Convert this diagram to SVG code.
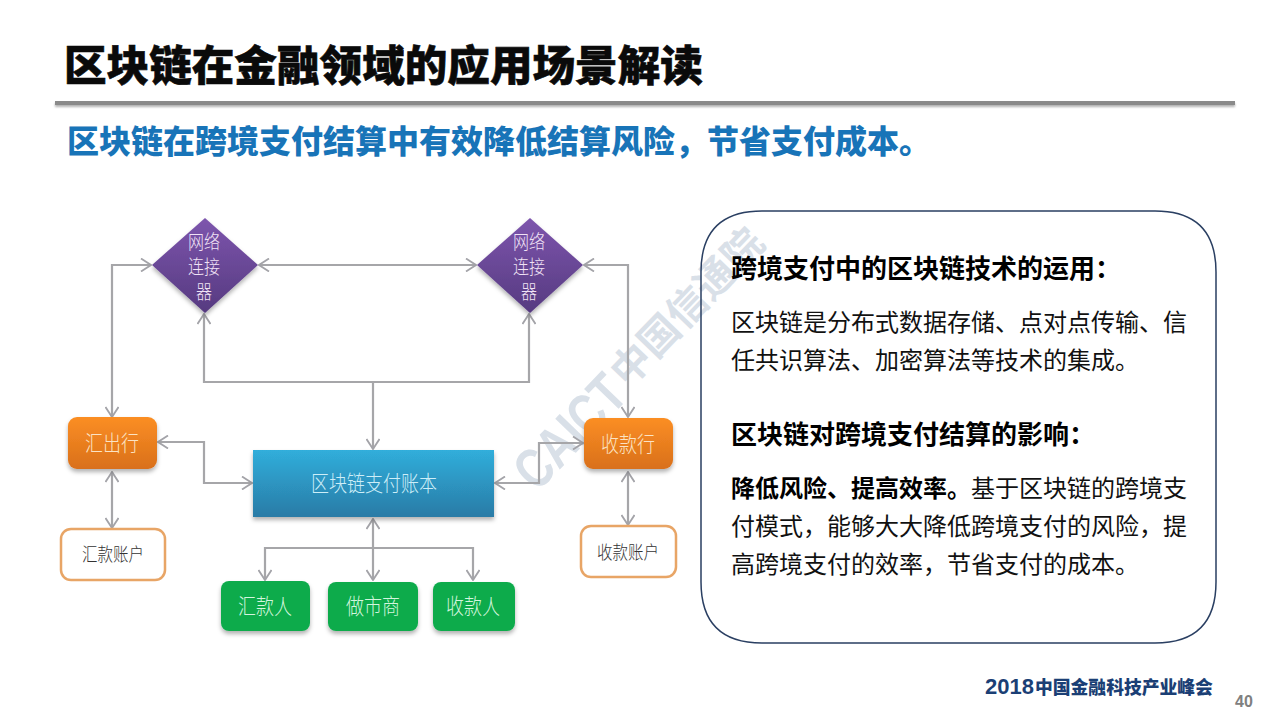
<svg xmlns="http://www.w3.org/2000/svg" width="1280" height="720" viewBox="0 0 1280 720">
<defs>
<linearGradient id="gp" x1="0" y1="0" x2="0" y2="1"><stop offset="0" stop-color="#7d55ad"/><stop offset="1" stop-color="#563a80"/></linearGradient>
<linearGradient id="go" x1="0" y1="0" x2="0" y2="1"><stop offset="0" stop-color="#fb8e24"/><stop offset="1" stop-color="#d9701a"/></linearGradient>
<linearGradient id="gb" x1="0" y1="0" x2="0" y2="1"><stop offset="0" stop-color="#30aedb"/><stop offset="1" stop-color="#2a7ba6"/></linearGradient>
<filter id="sh" x="-20%" y="-20%" width="140%" height="150%"><feDropShadow dx="0" dy="3" stdDeviation="2" flood-color="#000" flood-opacity="0.3"/></filter>
<filter id="bar" x="-1%" y="-100%" width="102%" height="400%"><feDropShadow dx="0" dy="2" stdDeviation="1" flood-color="#000" flood-opacity="0.3"/></filter>
<marker id="a" viewBox="0 0 12 14" refX="11" refY="7" markerWidth="12" markerHeight="14" markerUnits="userSpaceOnUse" orient="auto-start-reverse"><path d="M1 0.5L11 7L1 13.5" fill="none" stroke="#a3a3a8" stroke-width="1.8"/></marker>
</defs>
<style>
text{font-family:"Noto Sans CJK SC","Liberation Sans",sans-serif}
.c{fill:none;stroke:#a6a6a9;stroke-width:2.2}
.m{marker-end:url(#a)}
.s{marker-start:url(#a);marker-end:url(#a)}
.l{text-anchor:middle;font-size:18px;font-weight:300}
.d{font-size:16px;fill:#f0e2f5}
.k{font-size:15.5px;fill:#333}
.o{fill:#fbe3c4}
.g{fill:#d3f5de}
.b{font-size:24px;fill:#111;font-weight:400}
.bb{font-size:24px;fill:#000;font-weight:700}
.h{font-size:26px;fill:#000;font-weight:700}
</style>
<rect width="1280" height="720" fill="#fff"/>
<text x="64" y="81" font-size="42.6" font-weight="900" fill="#0a0a0a" stroke="#0a0a0a" stroke-width=".6">区块链在金融领域的应用场景解读</text>
<rect x="55" y="101" width="1180" height="4" fill="#8a8a8a" filter="url(#bar)"/>
<text x="67" y="153" font-size="32" font-weight="900" fill="#1874b8">区块链在跨境支付结算中有效降低结算风险，节省支付成本。</text>

<g id="watermark" transform="translate(537 493) rotate(-46)">
<text x="0" y="0" font-size="56" font-weight="700" fill="#d9e0e8" textLength="134" lengthAdjust="spacingAndGlyphs" style="font-family:'Liberation Sans',sans-serif">CAICT</text>
<text x="138" y="-7" font-size="40" font-weight="700" fill="#d9e0e8">中国信通院</text>
</g>

<g id="connectors">
<path class="c s" d="M151 265H112V417"/>
<path class="c s" d="M259 265H476"/>
<path class="c s" d="M204 314V382H529V314"/>
<path class="c m" d="M373 382V449"/>
<path class="c s" d="M584 265H628V417"/>
<path class="c s" d="M158 442H204V483H252"/>
<path class="c s" d="M495 483H539V443H583"/>
<path class="c s" d="M112 472V528"/>
<path class="c s" d="M628 472V525"/>
<path class="c s" d="M373 519V580"/>
<path class="c m" d="M373 548H265V580"/>
<path class="c m" d="M373 548H473V580"/>
</g>

<g id="n1"><path d="M205 218L258 265L205 313L152 265Z" fill="url(#gp)" filter="url(#sh)"/>
<text class="l d" transform="translate(204 249) scale(1 1.2)">网络</text><text class="l d" transform="translate(204 274) scale(1 1.2)">连接</text><text class="l d" transform="translate(204 299) scale(1 1.2)">器</text></g>
<g id="n2"><path d="M530 218L583 265L530 313L477 265Z" fill="url(#gp)" filter="url(#sh)"/>
<text class="l d" transform="translate(529 249) scale(1 1.2)">网络</text><text class="l d" transform="translate(529 274) scale(1 1.2)">连接</text><text class="l d" transform="translate(529 299) scale(1 1.2)">器</text></g>
<g id="n3"><rect x="68" y="417" width="89" height="52" rx="9" fill="url(#go)" filter="url(#sh)"/><text class="l o" transform="translate(112 451) scale(1 1.18)">汇出行</text></g>
<g id="n4"><rect x="584" y="418" width="89" height="51" rx="9" fill="url(#go)" filter="url(#sh)"/><text class="l o" transform="translate(628 452) scale(1 1.18)">收款行</text></g>
<g id="n5"><rect x="253" y="450" width="241" height="67" fill="url(#gb)" filter="url(#sh)"/><text class="l" fill="#cdeef8" transform="translate(374 491) scale(1 1.18)">区块链支付账本</text></g>
<g id="n6"><rect x="61" y="529" width="104" height="51" rx="10" fill="#fff" stroke="#e8a566" stroke-width="2.5"/><text class="l k" transform="translate(113 561) scale(1 1.2)">汇款账户</text></g>
<g id="n7"><rect x="581" y="526" width="95" height="51" rx="10" fill="#fff" stroke="#e8a566" stroke-width="2.5"/><text class="l k" transform="translate(628 559) scale(1 1.2)">收款账户</text></g>
<g id="n8"><rect x="221" y="581" width="89" height="50" rx="8" fill="#0cab4c" filter="url(#sh)"/><text class="l g" transform="translate(265 614) scale(1 1.18)">汇款人</text></g>
<g id="n9"><rect x="328" y="582" width="90" height="49" rx="8" fill="#0cab4c" filter="url(#sh)"/><text class="l g" transform="translate(373 614) scale(1 1.18)">做市商</text></g>
<g id="n10"><rect x="433" y="582" width="82" height="49" rx="8" fill="#0cab4c" filter="url(#sh)"/><text class="l g" transform="translate(473 614) scale(1 1.18)">收款人</text></g>

<g id="panel">
<path d="M762 211H1155Q1216 211 1216 272V582Q1216 643 1155 643H762Q701 643 701 582V272Q701 211 762 211Z" fill="none" stroke="#2a3f62" stroke-width="1.5"/>
<text class="h" x="731" y="278">跨境支付中的区块链技术的运用：</text>
<text class="b" x="731" y="331">区块链是分布式数据存储、点对点传输、信</text>
<text class="b" x="731" y="369">任共识算法、加密算法等技术的集成。</text>
<text class="h" x="731" y="444">区块链对跨境支付结算的影响：</text>
<text class="bb" x="731" y="497">降低风险、提高效率。<tspan class="b">基于区块链的跨境支</tspan></text>
<text class="b" x="731" y="535">付模式，能够大大降低跨境支付的风险，提</text>
<text class="b" x="731" y="573">高跨境支付的效率，节省支付的成本。</text>
</g>
<g id="footer">
<text x="985" y="694" font-size="22" font-weight="700" fill="#1b3f75" style="font-family:'Liberation Sans',sans-serif">2018</text>
<text x="1035" y="694" font-size="17.8" font-weight="900" fill="#1b3f75">中国金融科技产业峰会</text>
<text x="1235" y="707" font-size="16" font-weight="700" fill="#808080" style="font-family:'Liberation Sans',sans-serif">40</text>
</g>
</svg>
